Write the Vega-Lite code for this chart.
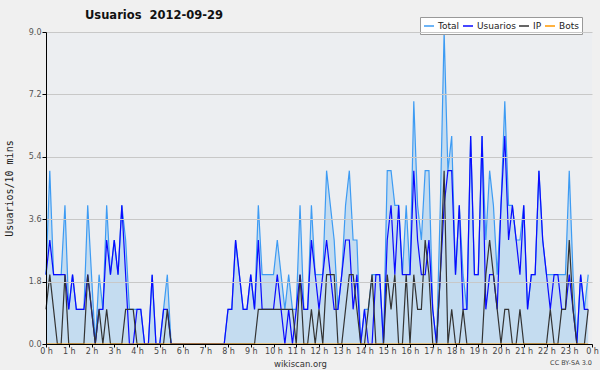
{
  "$schema": "https://vega.github.io/schema/vega-lite/v6.json",
  "width": 546,
  "height": 312,
  "autosize": "none",
  "padding": {"left": 46, "top": 32, "right": 8, "bottom": 26},
  "background": "#f0f0f0",
  "title": {"text": "Usuarios\u00a0 2012-09-29", "anchor": "start", "frame": "group", "dx": 39, "fontSize": 11.5, "font": "DejaVu Sans", "fontWeight": "bold", "color": "#111", "offset": -5},
  "config": {"view": {"fill": "#eceef1", "stroke": null}, "font": "DejaVu Sans"},
  "data": {"values": [
    {"t":"2012-09-29T00:00","Total":2,"Usuarios":2,"IP":1,"Bots":0},
    {"t":"2012-09-29T00:10","Total":5,"Usuarios":3,"IP":2,"Bots":0},
    {"t":"2012-09-29T00:20","Total":2,"Usuarios":2,"IP":1,"Bots":0},
    {"t":"2012-09-29T00:30","Total":2,"Usuarios":2,"IP":0,"Bots":0},
    {"t":"2012-09-29T00:40","Total":2,"Usuarios":2,"IP":0,"Bots":0},
    {"t":"2012-09-29T00:50","Total":4,"Usuarios":2,"IP":2,"Bots":0},
    {"t":"2012-09-29T01:00","Total":1,"Usuarios":1,"IP":0,"Bots":0},
    {"t":"2012-09-29T01:10","Total":2,"Usuarios":2,"IP":0,"Bots":0},
    {"t":"2012-09-29T01:20","Total":1,"Usuarios":1,"IP":0,"Bots":0},
    {"t":"2012-09-29T01:30","Total":1,"Usuarios":1,"IP":0,"Bots":0},
    {"t":"2012-09-29T01:40","Total":1,"Usuarios":1,"IP":0,"Bots":0},
    {"t":"2012-09-29T01:50","Total":4,"Usuarios":2,"IP":2,"Bots":0},
    {"t":"2012-09-29T02:00","Total":2,"Usuarios":1,"IP":1,"Bots":0},
    {"t":"2012-09-29T02:10","Total":0,"Usuarios":0,"IP":0,"Bots":0},
    {"t":"2012-09-29T02:20","Total":2,"Usuarios":1,"IP":1,"Bots":0},
    {"t":"2012-09-29T02:30","Total":1,"Usuarios":1,"IP":0,"Bots":0},
    {"t":"2012-09-29T02:40","Total":4,"Usuarios":3,"IP":1,"Bots":0},
    {"t":"2012-09-29T02:50","Total":2,"Usuarios":2,"IP":0,"Bots":0},
    {"t":"2012-09-29T03:00","Total":3,"Usuarios":3,"IP":0,"Bots":0},
    {"t":"2012-09-29T03:10","Total":2,"Usuarios":2,"IP":0,"Bots":0},
    {"t":"2012-09-29T03:20","Total":4,"Usuarios":4,"IP":0,"Bots":0},
    {"t":"2012-09-29T03:30","Total":3,"Usuarios":2,"IP":1,"Bots":0},
    {"t":"2012-09-29T03:40","Total":1,"Usuarios":0,"IP":1,"Bots":0},
    {"t":"2012-09-29T03:50","Total":1,"Usuarios":0,"IP":1,"Bots":0},
    {"t":"2012-09-29T04:00","Total":1,"Usuarios":1,"IP":0,"Bots":0},
    {"t":"2012-09-29T04:10","Total":1,"Usuarios":1,"IP":0,"Bots":0},
    {"t":"2012-09-29T04:20","Total":0,"Usuarios":0,"IP":0,"Bots":0},
    {"t":"2012-09-29T04:30","Total":0,"Usuarios":0,"IP":0,"Bots":0},
    {"t":"2012-09-29T04:40","Total":2,"Usuarios":2,"IP":0,"Bots":0},
    {"t":"2012-09-29T04:50","Total":0,"Usuarios":0,"IP":0,"Bots":0},
    {"t":"2012-09-29T05:00","Total":0,"Usuarios":0,"IP":0,"Bots":0},
    {"t":"2012-09-29T05:10","Total":1,"Usuarios":1,"IP":0,"Bots":0},
    {"t":"2012-09-29T05:20","Total":2,"Usuarios":1,"IP":1,"Bots":0},
    {"t":"2012-09-29T05:30","Total":0,"Usuarios":0,"IP":0,"Bots":0},
    {"t":"2012-09-29T05:40","Total":0,"Usuarios":0,"IP":0,"Bots":0},
    {"t":"2012-09-29T05:50","Total":0,"Usuarios":0,"IP":0,"Bots":0},
    {"t":"2012-09-29T06:00","Total":0,"Usuarios":0,"IP":0,"Bots":0},
    {"t":"2012-09-29T06:10","Total":0,"Usuarios":0,"IP":0,"Bots":0},
    {"t":"2012-09-29T06:20","Total":0,"Usuarios":0,"IP":0,"Bots":0},
    {"t":"2012-09-29T06:30","Total":0,"Usuarios":0,"IP":0,"Bots":0},
    {"t":"2012-09-29T06:40","Total":0,"Usuarios":0,"IP":0,"Bots":0},
    {"t":"2012-09-29T06:50","Total":0,"Usuarios":0,"IP":0,"Bots":0},
    {"t":"2012-09-29T07:00","Total":0,"Usuarios":0,"IP":0,"Bots":0},
    {"t":"2012-09-29T07:10","Total":0,"Usuarios":0,"IP":0,"Bots":0},
    {"t":"2012-09-29T07:20","Total":0,"Usuarios":0,"IP":0,"Bots":0},
    {"t":"2012-09-29T07:30","Total":0,"Usuarios":0,"IP":0,"Bots":0},
    {"t":"2012-09-29T07:40","Total":0,"Usuarios":0,"IP":0,"Bots":0},
    {"t":"2012-09-29T07:50","Total":0,"Usuarios":0,"IP":0,"Bots":0},
    {"t":"2012-09-29T08:00","Total":1,"Usuarios":1,"IP":0,"Bots":0},
    {"t":"2012-09-29T08:10","Total":1,"Usuarios":1,"IP":0,"Bots":0},
    {"t":"2012-09-29T08:20","Total":3,"Usuarios":3,"IP":0,"Bots":0},
    {"t":"2012-09-29T08:30","Total":2,"Usuarios":2,"IP":0,"Bots":0},
    {"t":"2012-09-29T08:40","Total":1,"Usuarios":1,"IP":0,"Bots":0},
    {"t":"2012-09-29T08:50","Total":1,"Usuarios":1,"IP":0,"Bots":0},
    {"t":"2012-09-29T09:00","Total":2,"Usuarios":2,"IP":0,"Bots":0},
    {"t":"2012-09-29T09:10","Total":1,"Usuarios":1,"IP":0,"Bots":0},
    {"t":"2012-09-29T09:20","Total":4,"Usuarios":3,"IP":1,"Bots":0},
    {"t":"2012-09-29T09:30","Total":2,"Usuarios":1,"IP":1,"Bots":0},
    {"t":"2012-09-29T09:40","Total":2,"Usuarios":1,"IP":1,"Bots":0},
    {"t":"2012-09-29T09:50","Total":2,"Usuarios":1,"IP":1,"Bots":0},
    {"t":"2012-09-29T10:00","Total":2,"Usuarios":1,"IP":1,"Bots":0},
    {"t":"2012-09-29T10:10","Total":3,"Usuarios":2,"IP":1,"Bots":0},
    {"t":"2012-09-29T10:20","Total":2,"Usuarios":1,"IP":1,"Bots":0},
    {"t":"2012-09-29T10:30","Total":1,"Usuarios":0,"IP":1,"Bots":0},
    {"t":"2012-09-29T10:40","Total":2,"Usuarios":1,"IP":1,"Bots":0},
    {"t":"2012-09-29T10:50","Total":1,"Usuarios":0,"IP":1,"Bots":0},
    {"t":"2012-09-29T11:00","Total":1,"Usuarios":1,"IP":0,"Bots":0},
    {"t":"2012-09-29T11:10","Total":4,"Usuarios":2,"IP":2,"Bots":0},
    {"t":"2012-09-29T11:20","Total":1,"Usuarios":1,"IP":0,"Bots":0},
    {"t":"2012-09-29T11:30","Total":1,"Usuarios":1,"IP":0,"Bots":0},
    {"t":"2012-09-29T11:40","Total":4,"Usuarios":3,"IP":1,"Bots":0},
    {"t":"2012-09-29T11:50","Total":2,"Usuarios":2,"IP":0,"Bots":0},
    {"t":"2012-09-29T12:00","Total":2,"Usuarios":1,"IP":1,"Bots":0},
    {"t":"2012-09-29T12:10","Total":2,"Usuarios":2,"IP":0,"Bots":0},
    {"t":"2012-09-29T12:20","Total":5,"Usuarios":3,"IP":2,"Bots":0},
    {"t":"2012-09-29T12:30","Total":4,"Usuarios":2,"IP":2,"Bots":0},
    {"t":"2012-09-29T12:40","Total":3,"Usuarios":1,"IP":2,"Bots":0},
    {"t":"2012-09-29T12:50","Total":1,"Usuarios":1,"IP":0,"Bots":0},
    {"t":"2012-09-29T13:00","Total":2,"Usuarios":2,"IP":0,"Bots":0},
    {"t":"2012-09-29T13:10","Total":4,"Usuarios":3,"IP":1,"Bots":0},
    {"t":"2012-09-29T13:20","Total":5,"Usuarios":3,"IP":2,"Bots":0},
    {"t":"2012-09-29T13:30","Total":3,"Usuarios":1,"IP":2,"Bots":0},
    {"t":"2012-09-29T13:40","Total":3,"Usuarios":2,"IP":1,"Bots":0},
    {"t":"2012-09-29T13:50","Total":0,"Usuarios":0,"IP":0,"Bots":0},
    {"t":"2012-09-29T14:00","Total":1,"Usuarios":1,"IP":0,"Bots":0},
    {"t":"2012-09-29T14:10","Total":1,"Usuarios":0,"IP":1,"Bots":0},
    {"t":"2012-09-29T14:20","Total":2,"Usuarios":0,"IP":2,"Bots":0},
    {"t":"2012-09-29T14:30","Total":2,"Usuarios":2,"IP":0,"Bots":0},
    {"t":"2012-09-29T14:40","Total":2,"Usuarios":2,"IP":0,"Bots":0},
    {"t":"2012-09-29T14:50","Total":0,"Usuarios":0,"IP":0,"Bots":0},
    {"t":"2012-09-29T15:00","Total":5,"Usuarios":3,"IP":2,"Bots":0},
    {"t":"2012-09-29T15:10","Total":5,"Usuarios":4,"IP":1,"Bots":0},
    {"t":"2012-09-29T15:20","Total":4,"Usuarios":2,"IP":2,"Bots":0},
    {"t":"2012-09-29T15:30","Total":4,"Usuarios":4,"IP":0,"Bots":0},
    {"t":"2012-09-29T15:40","Total":2,"Usuarios":2,"IP":0,"Bots":0},
    {"t":"2012-09-29T15:50","Total":4,"Usuarios":2,"IP":2,"Bots":0},
    {"t":"2012-09-29T16:00","Total":2,"Usuarios":2,"IP":0,"Bots":0},
    {"t":"2012-09-29T16:10","Total":7,"Usuarios":5,"IP":2,"Bots":0},
    {"t":"2012-09-29T16:20","Total":4,"Usuarios":3,"IP":1,"Bots":0},
    {"t":"2012-09-29T16:30","Total":3,"Usuarios":2,"IP":1,"Bots":0},
    {"t":"2012-09-29T16:40","Total":5,"Usuarios":2,"IP":3,"Bots":0},
    {"t":"2012-09-29T16:50","Total":5,"Usuarios":3,"IP":2,"Bots":0},
    {"t":"2012-09-29T17:00","Total":1,"Usuarios":1,"IP":0,"Bots":0},
    {"t":"2012-09-29T17:10","Total":0,"Usuarios":0,"IP":0,"Bots":0},
    {"t":"2012-09-29T17:20","Total":4,"Usuarios":2,"IP":2,"Bots":0},
    {"t":"2012-09-29T17:30","Total":9,"Usuarios":4,"IP":5,"Bots":0},
    {"t":"2012-09-29T17:40","Total":5,"Usuarios":5,"IP":0,"Bots":0},
    {"t":"2012-09-29T17:50","Total":6,"Usuarios":5,"IP":1,"Bots":0},
    {"t":"2012-09-29T18:00","Total":2,"Usuarios":2,"IP":0,"Bots":0},
    {"t":"2012-09-29T18:10","Total":4,"Usuarios":4,"IP":0,"Bots":0},
    {"t":"2012-09-29T18:20","Total":2,"Usuarios":1,"IP":1,"Bots":0},
    {"t":"2012-09-29T18:30","Total":1,"Usuarios":1,"IP":0,"Bots":0},
    {"t":"2012-09-29T18:40","Total":6,"Usuarios":6,"IP":0,"Bots":0},
    {"t":"2012-09-29T18:50","Total":2,"Usuarios":2,"IP":0,"Bots":0},
    {"t":"2012-09-29T19:00","Total":2,"Usuarios":2,"IP":0,"Bots":0},
    {"t":"2012-09-29T19:10","Total":6,"Usuarios":6,"IP":0,"Bots":0},
    {"t":"2012-09-29T19:20","Total":3,"Usuarios":1,"IP":2,"Bots":0},
    {"t":"2012-09-29T19:30","Total":5,"Usuarios":2,"IP":3,"Bots":0},
    {"t":"2012-09-29T19:40","Total":4,"Usuarios":2,"IP":2,"Bots":0},
    {"t":"2012-09-29T19:50","Total":2,"Usuarios":1,"IP":1,"Bots":0},
    {"t":"2012-09-29T20:00","Total":4,"Usuarios":4,"IP":0,"Bots":0},
    {"t":"2012-09-29T20:10","Total":7,"Usuarios":6,"IP":1,"Bots":0},
    {"t":"2012-09-29T20:20","Total":4,"Usuarios":3,"IP":1,"Bots":0},
    {"t":"2012-09-29T20:30","Total":4,"Usuarios":4,"IP":0,"Bots":0},
    {"t":"2012-09-29T20:40","Total":3,"Usuarios":3,"IP":0,"Bots":0},
    {"t":"2012-09-29T20:50","Total":3,"Usuarios":2,"IP":1,"Bots":0},
    {"t":"2012-09-29T21:00","Total":4,"Usuarios":4,"IP":0,"Bots":0},
    {"t":"2012-09-29T21:10","Total":1,"Usuarios":1,"IP":0,"Bots":0},
    {"t":"2012-09-29T21:20","Total":2,"Usuarios":2,"IP":0,"Bots":0},
    {"t":"2012-09-29T21:30","Total":2,"Usuarios":2,"IP":0,"Bots":0},
    {"t":"2012-09-29T21:40","Total":5,"Usuarios":5,"IP":0,"Bots":0},
    {"t":"2012-09-29T21:50","Total":3,"Usuarios":3,"IP":0,"Bots":0},
    {"t":"2012-09-29T22:00","Total":2,"Usuarios":2,"IP":0,"Bots":0},
    {"t":"2012-09-29T22:10","Total":2,"Usuarios":1,"IP":1,"Bots":0},
    {"t":"2012-09-29T22:20","Total":2,"Usuarios":2,"IP":0,"Bots":0},
    {"t":"2012-09-29T22:30","Total":2,"Usuarios":2,"IP":0,"Bots":0},
    {"t":"2012-09-29T22:40","Total":2,"Usuarios":1,"IP":1,"Bots":0},
    {"t":"2012-09-29T22:50","Total":2,"Usuarios":1,"IP":1,"Bots":0},
    {"t":"2012-09-29T23:00","Total":5,"Usuarios":2,"IP":3,"Bots":0},
    {"t":"2012-09-29T23:10","Total":2,"Usuarios":1,"IP":1,"Bots":0},
    {"t":"2012-09-29T23:20","Total":0,"Usuarios":0,"IP":0,"Bots":0},
    {"t":"2012-09-29T23:30","Total":2,"Usuarios":2,"IP":0,"Bots":0},
    {"t":"2012-09-29T23:40","Total":1,"Usuarios":1,"IP":0,"Bots":0},
    {"t":"2012-09-29T23:50","Total":2,"Usuarios":1,"IP":1,"Bots":0}
  ]},
  "layer": [
    {
      "mark": {"type": "area", "color": "#c4dcf0", "interpolate": "linear"},
      "encoding": {
        "x": {
          "field": "t", "type": "temporal",
          "scale": {"domain": [{"year": 2012, "month": 9, "date": 29, "hours": 0}, {"year": 2012, "month": 9, "date": 30, "hours": 0}]},
          "axis": {
            "title": "wikiscan.org", "titleFontSize": 8.5, "titleFontWeight": "normal", "titleColor": "#333",
            "titleX": 254, "titleY": 19, "titleAlign": "center", "titleBaseline": "middle",
            "format": "%-H h", "tickCount": 24,
            "labelOverlap": false, "labelFlush": false, "labelFontSize": 8, "labelColor": "#444", "labelPadding": 0,
            "tickColor": "#000", "tickSize": 3,
            "grid": false, "domainColor": "#000", "zindex": 1
          }
        },
        "y": {
          "field": "Total", "type": "quantitative",
          "scale": {"domain": [0, 9], "nice": false},
          "axis": {
            "title": "Usuarios/10 mins",
            "titleFont": "DejaVu Sans Mono", "titleFontSize": 10, "titleFontWeight": "normal", "titleColor": "#222",
            "titleAngle": 270, "titleX": -37, "titleY": 156, "titleAlign": "center", "titleBaseline": "middle",
            "values": [0, 0.9, 1.8, 2.7, 3.6, 4.5, 5.4, 6.3, 7.2, 8.1, 9],
            "labelExpr": "abs(datum.value / 1.8 - round(datum.value / 1.8)) < 0.01 ? format(datum.value, '.1f') : ''",
            "labelOverlap": false, "labelFontSize": 8, "labelColor": "#555", "labelPadding": 1,
            "tickColor": "#000", "tickSize": 4,
            "gridColor": "#c8c8c8", "gridOpacity": {"condition": {"test": "abs(datum.value / 1.8 - round(datum.value / 1.8)) < 0.01", "value": 1}, "value": 0},
            "domainColor": "#000", "zindex": 1
          }
        }
      }
    },
    {
      "mark": {"type": "line", "strokeWidth": 1.2},
      "encoding": {
        "x": {"field": "t", "type": "temporal"},
        "y": {"field": "Total", "type": "quantitative"},
        "color": {"datum": "Total", "type": "nominal"}
      }
    },
    {
      "mark": {"type": "line", "strokeWidth": 1.2},
      "encoding": {
        "x": {"field": "t", "type": "temporal"},
        "y": {"field": "Usuarios", "type": "quantitative"},
        "color": {"datum": "Usuarios", "type": "nominal"}
      }
    },
    {
      "mark": {"type": "line", "strokeWidth": 1.2},
      "encoding": {
        "x": {"field": "t", "type": "temporal"},
        "y": {"field": "IP", "type": "quantitative"},
        "color": {"datum": "IP", "type": "nominal"}
      }
    },
    {
      "mark": {"type": "line", "strokeWidth": 1.2},
      "encoding": {
        "x": {"field": "t", "type": "temporal"},
        "y": {"field": "Bots", "type": "quantitative"},
        "color": {
          "datum": "Bots", "type": "nominal",
          "scale": {"domain": ["Total", "Usuarios", "IP", "Bots"], "range": ["#3d9bf3", "#0a0aff", "#333333", "#ff9900"]},
          "legend": {
            "orient": "none", "legendX": 374, "legendY": -15, "direction": "horizontal", "title": null,
            "fillColor": "#ffffff", "strokeColor": "#999999", "padding": 3, "cornerRadius": 0,
            "symbolType": "stroke", "symbolSize": 100, "symbolStrokeWidth": 1.5,
            "labelFontSize": 9, "labelColor": "#222", "labelOffset": 3, "columnPadding": 0
          }
        }
      }
    },
    {
      "data": {"values": [{"nota": "CC BY-SA 3.0"}]},
      "mark": {"type": "text", "align": "right", "baseline": "middle", "fontSize": 6.5, "color": "#444"},
      "encoding": {
        "x": {"datum": {"year": 2012, "month": 9, "date": 30, "hours": 0}, "type": "temporal"},
        "y": {"datum": -0.55, "type": "quantitative"},
        "text": {"field": "nota", "type": "nominal"}
      }
    }
  ]
}
